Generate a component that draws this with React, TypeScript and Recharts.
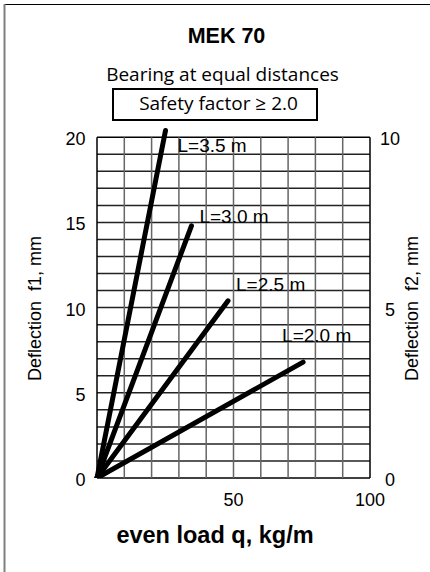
import React from 'react';
import { LineChart, Line, XAxis, YAxis, ReferenceLine, LabelList } from 'recharts';

const seriesNames = ['L=3.5 m', 'L=3.0 m', 'L=2.5 m', 'L=2.0 m'];
const endLoads = [25.1, 34.6, 48.0, 75.5];
const endDeflections = [20.4, 14.8, 10.4, 6.8];
const gridLoads = [0, 10, 20, 30, 40, 50, 60, 70, 80, 90, 100];
const gridDeflections = [0, 1, 2, 3, 4, 5, 6, 7, 8, 9, 10, 11, 12, 13, 14, 15, 16, 17, 18, 19, 20];
const f1Ticks = [0, 5, 10, 15, 20];
const f2Ticks = [0, 5, 10];
const loadTicks = [50, 100];

const seriesData = seriesNames.map((name, i) => ({
  name,
  points: [
    { q: 0, f: 0 },
    { q: endLoads[i], f: endDeflections[i] },
  ],
}));

const labelOffsets = [
  { dx: 12, dy: 22 },
  { dx: 8, dy: -3 },
  { dx: 8, dy: -10 },
  { dx: -21, dy: -20 },
];

const SANS = '"Liberation Sans", Arial, Helvetica, sans-serif';
const HUMAN = '"Open Sans", "Noto Sans", sans-serif';

export default function App() {
  return (
    <div style={{ position: 'absolute', left: 0, top: 0, width: 430, height: 572, background: '#fff' }}>
      <svg width={430} height={572} style={{ position: 'absolute', left: 0, top: 0 }}>
        <line x1={5} y1={4.5} x2={430} y2={4.5} stroke="#000" strokeWidth={1} />
        <line x1={4.5} y1={4} x2={4.5} y2={572} stroke="#808080" strokeWidth={2} />
        <text x={226.5} y={43} textAnchor="middle" fontFamily={SANS} fontWeight="bold" fontSize={21.5} fill="#000">MEK 70</text>
        <text x={222.5} y={81} textAnchor="middle" fontFamily={HUMAN} fontSize={19} fill="#000">Bearing at equal distances</text>
        <rect x={113} y={89} width={204} height={31} fill="none" stroke="#000" strokeWidth={2} />
        <text x={218.5} y={110} textAnchor="middle" fontFamily={HUMAN} fontSize={19} fill="#000">Safety factor ≥ 2.0</text>
        <text x={215} y={543} textAnchor="middle" fontFamily={SANS} fontWeight="bold" fontSize={23.5} fill="#000">even load q, kg/m</text>
      </svg>
      <div style={{ position: 'absolute', left: 0, top: 0 }}>
        <LineChart width={430} height={572} margin={{ top: 127, right: 0, bottom: 0, left: 0 }}>
          <XAxis
            dataKey="q"
            type="number"
            domain={[0, 100]}
            ticks={loadTicks}
            axisLine={false}
            tickLine={false}
            height={94}
            tick={(p: any) => (
              <text x={p.x} y={506} textAnchor="middle" fontFamily={SANS} fontSize={18} fill="#000">
                {p.payload.value}
              </text>
            )}
          />
          <YAxis
            yAxisId="f1"
            type="number"
            domain={[0, 20.6]}
            allowDataOverflow
            ticks={f1Ticks}
            axisLine={false}
            tickLine={false}
            width={97}
            tick={(p: any) => (
              <text x={85.5} y={p.y + 8} textAnchor="end" fontFamily={SANS} fontSize={18} fill="#000">
                {p.payload.value}
              </text>
            )}
            label={{
              content: (lp: any) => {
                const vb = lp.viewBox;
                const cy = vb.y + vb.height / 2 + 6;
                return (
                  <text x={41} y={cy} transform={`rotate(-90, 41, ${cy})`} textAnchor="middle" fontFamily={SANS} fontSize={18} fill="#000" style={{ whiteSpace: 'pre' }}>
                    {'Deflection  f1, mm'}
                  </text>
                );
              },
            }}
          />
          <YAxis
            yAxisId="f2"
            orientation="right"
            type="number"
            domain={[0, 10.3]}
            allowDataOverflow
            ticks={f2Ticks}
            axisLine={false}
            tickLine={false}
            width={60}
            tick={(p: any) => (
              <text x={390} y={p.y + 8} textAnchor="middle" fontFamily={SANS} fontSize={18} fill="#000">
                {p.payload.value}
              </text>
            )}
            label={{
              content: (lp: any) => {
                const vb = lp.viewBox;
                const cy = vb.y + vb.height / 2 + 6;
                return (
                  <text x={418} y={cy} transform={`rotate(-90, 418, ${cy})`} textAnchor="middle" fontFamily={SANS} fontSize={18} fill="#000" style={{ whiteSpace: 'pre' }}>
                    {'Deflection  f2, mm'}
                  </text>
                );
              },
            }}
          />
          {gridDeflections.map((v) => (
            <ReferenceLine
              key={'h' + v}
              yAxisId="f1"
              segment={[{ x: 0, y: v }, { x: 100, y: v }]}
              stroke={v === 0 || v === 20 ? '#000' : '#222'}
              strokeWidth={1.5}
              ifOverflow="visible"
            />
          ))}
          {gridLoads.map((v) => (
            <ReferenceLine
              key={'v' + v}
              yAxisId="f1"
              segment={[{ x: v, y: 0 }, { x: v, y: 20 }]}
              stroke={v === 0 || v === 100 ? '#000' : '#666'}
              strokeWidth={1.5}
              ifOverflow="visible"
            />
          ))}
          {seriesData.map((s, i) => (
            <Line
              key={s.name}
              yAxisId="f1"
              data={s.points}
              dataKey="f"
              name={s.name}
              stroke="#000"
              strokeWidth={5}
              strokeLinecap="round"
              dot={false}
              activeDot={false}
              isAnimationActive={false}
            >
              <LabelList
                dataKey="f"
                content={(lp: any) => {
                  if (lp.index !== 1) return null;
                  return (
                    <text
                      x={lp.x + labelOffsets[i].dx}
                      y={lp.y + labelOffsets[i].dy}
                      fontFamily={SANS}
                      fontSize={19}
                      fill="#000"
                    >
                      {s.name}
                    </text>
                  );
                }}
              />
            </Line>
          ))}
        </LineChart>
      </div>
    </div>
  );
}
